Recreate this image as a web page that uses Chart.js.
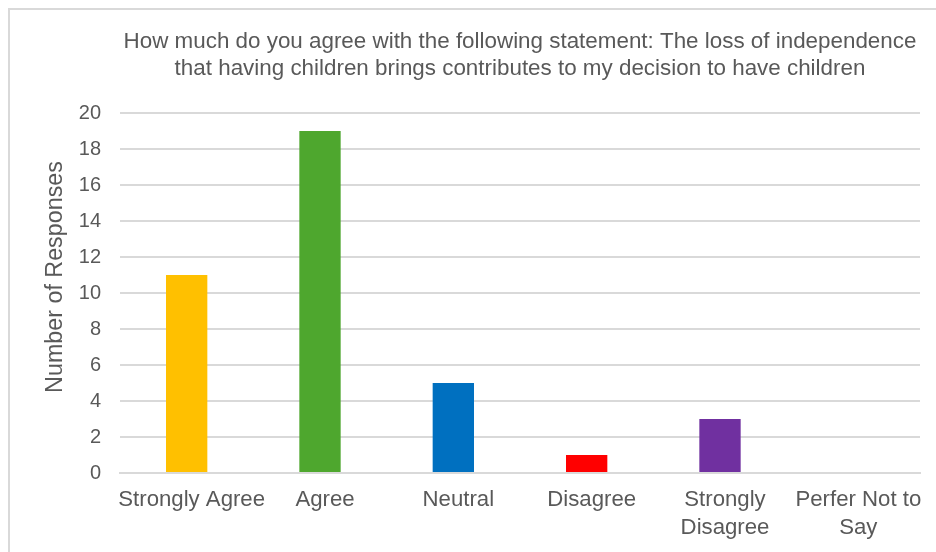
<!DOCTYPE html>
<html>
<head>
<meta charset="utf-8">
<script src="https://cdn.jsdelivr.net/npm/chart.js@4.4.1/dist/chart.umd.min.js"></script>
<style>
  html, body { margin: 0; padding: 0; background: #ffffff; }
  #wrap { position: relative; width: 936px; height: 552px; }
</style>
</head>
<body>
<div id="wrap"><canvas id="chart" width="936" height="552"></canvas></div>
<script>
// Survey responses
const categories = ['Strongly Agree', 'Agree', 'Neutral', 'Disagree', ['Strongly', 'Disagree'], ['Perfer Not to', 'Say']];
const responses = [11, 19, 5, 1, 3, 0];
const barColors = ['#FFC000', '#4EA72E', '#0070C0', '#FF0000', '#7030A0', '#A5A5A5'];
const titleLines = [
  'How much do you agree with the following statement: The loss of independence',
  'that having children brings contributes to my decision to have children'
];
const yAxisTitle = 'Number of Responses';
const yTicks = [0, 2, 4, 6, 8, 10, 12, 14, 16, 18, 20];

const FONT = '"Liberation Sans", Arial, Helvetica, sans-serif';
const TEXT = '#595959';

// Light frame around the chart, a title centred over the plot area and the y-axis title
const framePlugin = {
  id: 'frame',
  beforeDraw(chart) {
    const ctx = chart.ctx;
    ctx.save();
    ctx.strokeStyle = '#d9d9d9';
    ctx.lineWidth = 2;
    ctx.beginPath();
    ctx.moveTo(9, chart.height);
    ctx.lineTo(9, 9);
    ctx.lineTo(chart.width, 9);
    ctx.stroke();
    ctx.restore();
  },
  afterDraw(chart) {
    const ctx = chart.ctx;
    const a = chart.chartArea;
    const cx = (a.left + a.right) / 2;
    ctx.save();
    ctx.fillStyle = TEXT;
    ctx.font = '22.4px ' + FONT;
    ctx.textAlign = 'center';
    ctx.textBaseline = 'middle';
    titleLines.forEach((line, i) => ctx.fillText(line, cx, 42 + i * 27));

    ctx.font = '23.3px ' + FONT;
    ctx.translate(56, 277);
    ctx.rotate(-Math.PI / 2);
    ctx.fillText(yAxisTitle, 0, 0);
    ctx.restore();
  }
};

new Chart(document.getElementById('chart'), {
  type: 'bar',
  data: {
    labels: categories,
    datasets: [{
      data: responses,
      backgroundColor: barColors,
      borderWidth: 0,
      barPercentage: 0.31,
      categoryPercentage: 1.0
    }]
  },
  options: {
    responsive: false,
    animation: false,
    devicePixelRatio: 1,
    layout: { padding: { top: 113, right: 16, bottom: 0, left: 0 } },
    plugins: {
      legend: { display: false },
      title: { display: false },
      tooltip: { enabled: false }
    },
    scales: {
      x: {
        grid: { display: false, drawTicks: false },
        border: { display: true, color: '#d9d9d9', width: 2 },
        ticks: {
          color: TEXT,
          font: { family: FONT, size: 22.2, lineHeight: 1.27 },
          padding: 13,
          labelOffset: 5,
          maxRotation: 0,
          autoSkip: false
        },
        afterFit(scale) { scale.height = 79; }
      },
      y: {
        min: 0,
        max: 20,
        afterBuildTicks(scale) { scale.ticks = yTicks.map(v => ({ value: v })); },
        grid: { color: '#d9d9d9', lineWidth: 2, drawTicks: false },
        border: { display: false },
        ticks: {
          color: TEXT,
          font: { family: FONT, size: 20 },
          padding: 19
        },
        title: { display: false },
        afterFit(scale) { scale.width = 120; }
      }
    }
  },
  plugins: [framePlugin]
});
</script>
</body>
</html>
